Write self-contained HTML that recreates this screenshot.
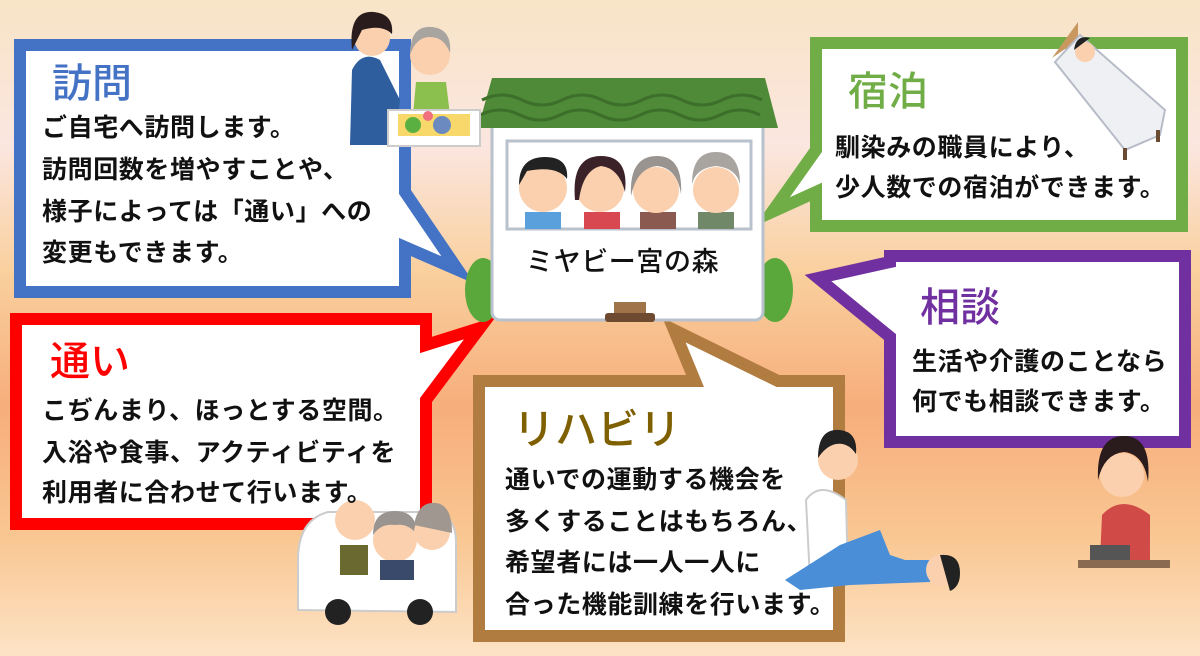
<!DOCTYPE html>
<html><head><meta charset="utf-8">
<style>
body{margin:0;width:1200px;height:656px;overflow:hidden;position:relative;
background:linear-gradient(180deg,#f8e4c6 0%,#fbe6e0 22%,#f9cf9c 42%,#f7ad7c 62%,#f9c792 82%,#fde3c6 100%);
font-family:"Liberation Sans","Noto Sans CJK JP",sans-serif;}
svg{position:absolute;left:0;top:0}
.t{position:absolute;white-space:nowrap;font-size:40px;line-height:44px;font-weight:500}
.b{position:absolute;white-space:nowrap;font-size:25px;letter-spacing:0.6px;line-height:42px;font-weight:bold;color:#111}
</style></head><body>
<svg width="1200" height="656" viewBox="0 0 1200 656">
<g fill="#fff" stroke-width="12" stroke-linejoin="miter" stroke-miterlimit="10">
<path d="M20,45 H405 V192 L458,270 L405,247 V292 H20 Z" stroke="#4472c4"/>
<path d="M16,319 H426 V345 L480,328 L426,400 V524 H16 Z" stroke="#ff0000"/>
<path d="M816,43 H1182 V226 H816 V192 L772,212 L816,150 Z" stroke="#70ad47"/>
<path d="M890,256 H1185 V442 H890 V337 L818,278 L890,262 Z" stroke="#7030a0"/>
<path d="M479,381 H695 L674,330 L778,381 H839 V636 H479 Z" stroke="#b07c40"/>
</g>
<!-- house -->
<g>
<ellipse cx="483" cy="290" rx="18" ry="32" fill="#5aa83c"/>
<ellipse cx="775" cy="290" rx="18" ry="32" fill="#5aa83c"/>
<rect x="492" y="118" width="271" height="202" rx="8" fill="#fff" stroke="#b8c2cc" stroke-width="3"/>
<path d="M492,78 H765 L778,128 H478 Z" fill="#4e8a38"/>
<path d="M482,100 q20,-10 40,0 t40,0 t40,0 t40,0 t40,0 t40,0 t40,0" fill="none" stroke="#3d6e2a" stroke-width="3"/>
<path d="M480,115 q20,-10 40,0 t40,0 t40,0 t40,0 t40,0 t40,0 t40,0" fill="none" stroke="#3d6e2a" stroke-width="3"/>
<rect x="507" y="141" width="244" height="88" fill="#fff" stroke="#b8c2cc" stroke-width="3"/>
<g>
<rect x="525" y="212" width="36" height="17" fill="#5aa0dc"/><circle cx="543" cy="188" r="24" fill="#fbd0ae"/><path d="M519,185 q0,-28 26,-28 q24,0 22,22 q-10,-14 -40,-8 z" fill="#222"/>
<rect x="584" y="212" width="36" height="17" fill="#d84850"/><circle cx="600" cy="188" r="24" fill="#fbd0ae"/><path d="M575,200 q-4,-44 26,-44 q28,0 24,36 q-6,-24 -24,-26 q-18,4 -22,34 z" fill="#3a2228"/>
<rect x="640" y="212" width="36" height="17" fill="#8a5a50"/><circle cx="656" cy="190" r="23" fill="#fbd0ae"/><path d="M631,196 q-2,-40 26,-40 q26,0 24,38 q-4,-26 -24,-28 q-20,2 -26,30 z" fill="#9a9490"/>
<rect x="698" y="212" width="36" height="17" fill="#708868"/><circle cx="716" cy="190" r="23" fill="#fbd0ae"/><path d="M692,184 q0,-32 24,-32 q24,0 24,32 q-4,-16 -24,-18 q-20,2 -24,18 z" fill="#a8a4a0"/>
</g>
<rect x="614" y="302" width="32" height="12" fill="#a07448"/>
<rect x="605" y="313" width="50" height="9" rx="3" fill="#6e4a30"/>
</g>
<!-- nurse & elder -->
<g>
<path d="M350,145 L352,70 q10,-20 28,-10 L400,100 L395,145 Z" fill="#2f5e9e"/>
<circle cx="372" cy="38" r="18" fill="#fbd0ae"/><path d="M352,50 q-4,-40 22,-38 q20,2 18,22 q-10,-10 -30,-4 z" fill="#2a1c1c"/>
<circle cx="430" cy="55" r="20" fill="#fbd0ae"/><path d="M410,55 q0,-30 22,-28 q20,2 18,26 q-6,-16 -20,-16 q-14,0 -20,18z" fill="#a8a4a0"/>
<path d="M413,115 L416,82 h30 L450,115 Z" fill="#8bbf4e"/>
<rect x="388" y="110" width="92" height="36" fill="#fff" stroke="#ccc" stroke-width="2"/>
<rect x="398" y="114" width="72" height="22" fill="#f8d86a"/>
<circle cx="413" cy="125" r="8" fill="#5ab040"/><circle cx="442" cy="125" r="9" fill="#6a8ac0"/><circle cx="428" cy="116" r="5" fill="#f07080"/>
</g>
<!-- bed -->
<g>
<path d="M1052,58 L1078,22 V40 Z" fill="#c89860"/>
<path d="M1055,62 L1080,35 L1165,110 L1160,135 L1125,150 Z" fill="#eef0f4" stroke="#b8bcc8" stroke-width="2"/>
<circle cx="1085" cy="52" r="10" fill="#fbd0ae"/><path d="M1074,50 q2,-16 16,-12 z" fill="#222"/>
<rect x="1156" y="130" width="4" height="12" fill="#6a4a30"/><rect x="1123" y="148" width="4" height="12" fill="#6a4a30"/>
</g>
<!-- phone lady -->
<g>
<path d="M1100,560 L1102,515 q20,-22 48,0 L1150,560 Z" fill="#d04a48"/>
<circle cx="1122" cy="475" r="22" fill="#fbd0ae"/><path d="M1098,480 q-2,-44 26,-44 q28,0 24,46 q-4,-28 -24,-30 q-20,2 -26,28z" fill="#2a1c1c"/>
<rect x="1090" y="545" width="40" height="15" fill="#555"/>
<rect x="1078" y="560" width="92" height="8" fill="#8a6a50"/>
</g>
<!-- van -->
<g>
<path d="M298,610 V560 q0,-40 30,-48 h100 q28,0 28,30 V612 Z" fill="#fff" stroke="#ccc" stroke-width="2"/>
<circle cx="355" cy="520" r="20" fill="#fbd0ae"/><circle cx="395" cy="540" r="22" fill="#fbd0ae"/><path d="M373,535 q0,-24 22,-24 q22,0 22,24 q-8,-12 -22,-10 q-14,-2 -22,10z" fill="#9a9490"/>
<circle cx="432" cy="532" r="18" fill="#fbd0ae"/><path d="M414,525 q4,-24 22,-22 q16,2 16,30 z" fill="#a09890"/>
<rect x="340" y="545" width="28" height="30" fill="#6a6a30"/><rect x="380" y="560" width="34" height="20" fill="#3a4a6a"/>
<circle cx="338" cy="612" r="13" fill="#222"/><circle cx="420" cy="612" r="13" fill="#222"/>
</g>
<!-- therapist -->
<g>
<circle cx="838" cy="460" r="20" fill="#fbd0ae"/><path d="M818,458 q0,-30 22,-28 q18,2 16,24 q-8,-12 -20,-10 q-10,2 -18,14z" fill="#222"/>
<path d="M810,580 L806,500 q14,-20 40,0 L848,580 Z" fill="#fff" stroke="#ccc" stroke-width="2"/>
<path d="M785,580 L840,545 L880,530 L890,555 L905,560 L930,560 L930,582 L850,585 L800,590 Z" fill="#4a8ed8"/>
<circle cx="942" cy="570" r="16" fill="#fbd0ae"/><path d="M940,555 q20,-2 20,18 q0,14 -10,18 z" fill="#222"/>
</g>
</svg>
<div class="t" style="left:52px;top:62px;color:#4472c4">訪問</div>
<div class="b" style="left:42px;top:107px">ご自宅へ訪問します。</div>
<div class="b" style="left:42px;top:149px">訪問回数を増やすことや、</div>
<div class="b" style="left:42px;top:191px">様子によっては「通い」への</div>
<div class="b" style="left:42px;top:232px">変更もできます。</div>

<div class="t" style="left:50px;top:340px;color:#ff0000">通い</div>
<div class="b" style="left:42px;top:390px">こぢんまり、ほっとする空間。</div>
<div class="b" style="left:42px;top:432px">入浴や食事、アクティビティを</div>
<div class="b" style="left:42px;top:472px">利用者に合わせて行います。</div>

<div class="t" style="left:848px;top:70px;color:#70ad47">宿泊</div>
<div class="b" style="left:835px;top:127px">馴染みの職員により、</div>
<div class="b" style="left:835px;top:167px">少人数での宿泊ができます。</div>

<div class="t" style="left:920px;top:286px;color:#7030a0">相談</div>
<div class="b" style="left:912px;top:341px">生活や介護のことなら</div>
<div class="b" style="left:912px;top:381px">何でも相談できます。</div>

<div class="t" style="left:513px;top:408px;color:#7f6000;font-size:42px">リハビリ</div>
<div class="b" style="left:505px;top:459px">通いでの運動する機会を</div>
<div class="b" style="left:505px;top:501px">多くすることはもちろん、</div>
<div class="b" style="left:505px;top:542px">希望者には一人一人に</div>
<div class="b" style="left:505px;top:584px">合った機能訓練を行います。</div>

<div class="b" style="left:526px;top:241px;font-size:27px;font-weight:500">ミヤビー宮の森</div>
</body></html>
